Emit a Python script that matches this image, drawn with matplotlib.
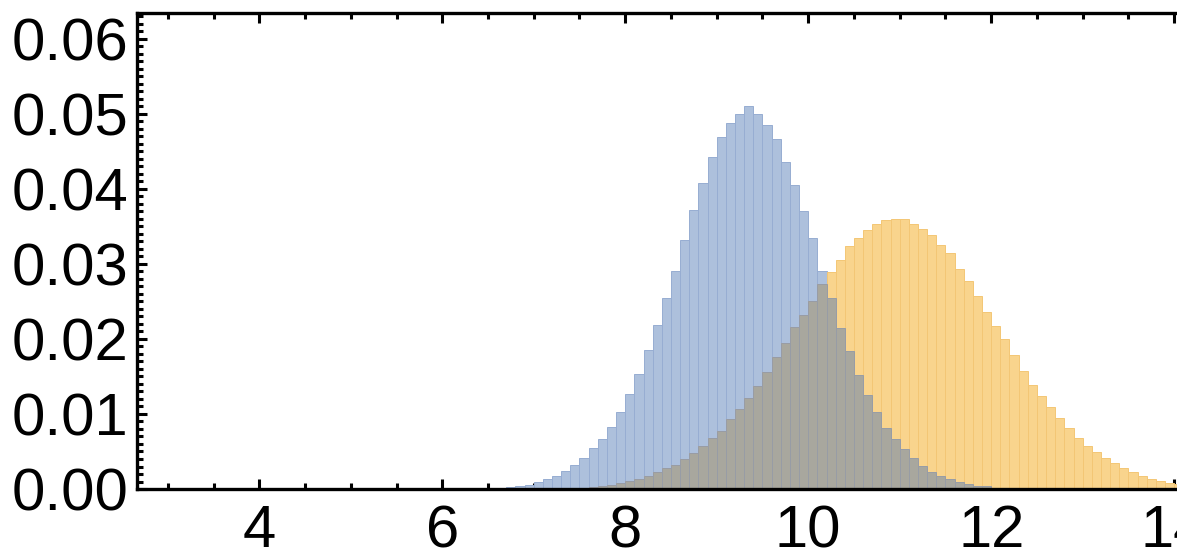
import numpy as np
import matplotlib
matplotlib.use("Agg")
import matplotlib.pyplot as plt
from matplotlib.patches import Rectangle
from matplotlib.ticker import MultipleLocator, FormatStrFormatter

plt.rcParams['font.family'] = ['Liberation Sans', 'DejaVu Sans']

# histogram bins (left edges, width 0.1)
bin_width = 0.1
bin_left = np.round(np.arange(6.4, 14.05, bin_width), 1)

# density of the first sample, 6.4 .. 14.0
blue_density = [
    0.00002, 0.00005, 0.00013, 0.00027, 0.0004, 0.00058, 0.00089, 0.00133, 0.00178, 0.0024,
    0.00316, 0.00409, 0.00547, 0.00667, 0.00827, 0.01022, 0.01262, 0.01529, 0.01858, 0.02191,
    0.02551, 0.02911, 0.03316, 0.03716, 0.04076, 0.04422, 0.04693, 0.04876, 0.05004, 0.05102,
    0.04996, 0.04853, 0.04671, 0.04356, 0.04049, 0.03704, 0.03342, 0.02905, 0.02542, 0.02151,
    0.01836, 0.01524, 0.01253, 0.01027, 0.00818, 0.00667, 0.00529, 0.00409, 0.00307, 0.00227,
    0.00173, 0.00133, 0.00098, 0.00071, 0.00044, 0.00036, 0.00018, 0.0001, 0.00005, 0.00003,
    0, 0, 0, 0, 0, 0, 0, 0, 0, 0,
    0, 0, 0, 0, 0, 0, 0,
]

# density of the second sample, 6.4 .. 14.0
orange_density = [
    0, 0, 0, 0.00001, 0.00002, 0.00002, 0.00003, 0.00005, 0.00007, 0.0001,
    0.00013, 0.00018, 0.00027, 0.0004, 0.00053, 0.00076, 0.00107, 0.00138, 0.00178, 0.00222,
    0.00284, 0.0032, 0.00396, 0.00476, 0.00573, 0.00676, 0.00778, 0.00933, 0.01062, 0.01218,
    0.01378, 0.0156, 0.0176, 0.01951, 0.02164, 0.0232, 0.0251, 0.02733, 0.02898, 0.03049,
    0.0324, 0.03342, 0.03453, 0.03529, 0.03582, 0.03596, 0.03596, 0.03529, 0.03471, 0.03387,
    0.03253, 0.03142, 0.02929, 0.02773, 0.02569, 0.02356, 0.02169, 0.02, 0.01782, 0.01573,
    0.01387, 0.01236, 0.01093, 0.00951, 0.00809, 0.00684, 0.00569, 0.00493, 0.00413, 0.00342,
    0.00276, 0.00222, 0.00173, 0.00129, 0.00107, 0.00084, 0.0007,
]

x_ticks = [4, 6, 8, 10, 12, 14]
y_ticks = [0.00, 0.01, 0.02, 0.03, 0.04, 0.05, 0.06]

blue = np.array(blue_density)
orange = np.array(orange_density)
overlap = np.minimum(blue, orange)

fig = plt.figure(figsize=(11.9, 5.55), dpi=100)
ax = fig.add_axes([0.1151, 0.1189, 0.8739, 0.8571])

ax.bar(bin_left, blue, width=bin_width, align='edge',
       color='#adc0dc', edgecolor='#97add2', linewidth=0.7, zorder=2)
ax.bar(bin_left, orange, width=bin_width, align='edge',
       color='#f9d48d', edgecolor='#f3c675', linewidth=0.7, zorder=3)
ax.bar(bin_left, overlap, width=bin_width, align='edge',
       color='#a8a79e', edgecolor='#979ca6', linewidth=0.7, zorder=4)

ax.set_xlim(2.663, 14.03)
ax.set_ylim(0, 0.0634)

ax.set_xticks(x_ticks)
ax.set_yticks(y_ticks)
ax.xaxis.set_minor_locator(MultipleLocator(0.5))
ax.yaxis.set_minor_locator(MultipleLocator(0.001))
ax.yaxis.set_major_formatter(FormatStrFormatter('%.2f'))

# frame is cut at the right edge, so no right spine
ax.spines['right'].set_visible(False)
for side in ['left', 'top', 'bottom']:
    ax.spines[side].set_linewidth(2.4)
    ax.spines[side].set_zorder(10)

ax.tick_params(which='both', direction='in', top=True, right=False,
               width=2.2, labelsize=43, colors='black')
ax.tick_params(which='major', length=7)
ax.tick_params(which='minor', length=4)
ax.tick_params(axis='x', which='major', pad=11)
ax.tick_params(axis='y', which='major', pad=6)

# blank strip past the frame's right end
fig.patches.append(Rectangle((0.9891, 0), 0.02, 1, transform=fig.transFigure,
                             facecolor='white', edgecolor='none', zorder=20))

fig.savefig('out.png', dpi=100)
